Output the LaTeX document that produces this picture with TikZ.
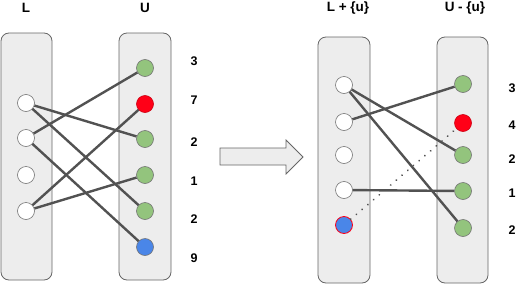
\documentclass[tikz,border=0pt]{standalone}
\usepackage{fontspec}
\setmainfont{Liberation Sans}
\begin{document}
\begin{tikzpicture}[x=1pt,y=-1pt,
  panel/.style={draw=black!60, fill=black!7, rounded corners=8pt, line width=0.8pt},
  vtx/.style={circle, minimum size=17pt, inner sep=0pt, draw=black!55, line width=0.6pt, fill=white},
  gvtx/.style={vtx, fill=grn},
  rvtx/.style={vtx, fill=rd, draw=rd!80!black},
  bvtx/.style={vtx, fill=blu},
  lbl/.style={font=\bfseries\fontsize{12.5}{14}\selectfont, inner sep=0pt},
  ttl/.style={font=\bfseries\fontsize{13.5}{15}\selectfont, inner sep=0pt},
  edge/.style={draw=black!68, line width=2.4pt},
  dotedge/.style={draw=black!68, line width=2pt, line cap=round, dash pattern=on 0.01pt off 7.5pt}
]
\definecolor{grn}{HTML}{93C47D}
\definecolor{rd}{HTML}{FF0017}
\definecolor{blu}{HTML}{4A86E8}
\useasboundingbox (0,0) rectangle (516,284);

% ---------- left part ----------
\node[ttl] (tL) at (26,8) {L};
\node[ttl] (tU) at (145,8) {U};
\draw[panel] (1,33) rectangle (52,280);
\draw[panel] (119,33) rectangle (171,280);

\node[vtx] (a1) at (26,103) {};
\node[vtx] (a2) at (26,138) {};
\node[vtx] (a3) at (26,175) {};
\node[vtx] (a4) at (26,211) {};

\node[gvtx] (b1) at (145,68) {};
\node[rvtx] (b2) at (145,104) {};
\node[gvtx] (b3) at (145,139) {};
\node[gvtx] (b4) at (145,175) {};
\node[gvtx] (b5) at (145,211) {};
\node[bvtx] (b6) at (145,247) {};

\node[lbl] (n1) at (194,61) {3};
\node[lbl] (n2) at (194,100) {7};
\node[lbl] (n3) at (194,142) {2};
\node[lbl] (n4) at (194,181) {1};
\node[lbl] (n5) at (194,219) {2};
\node[lbl] (n6) at (194,258) {9};

\draw[edge] (a1) -- (b3);
\draw[edge] (a1) -- (b5);
\draw[edge] (a2) -- (b1);
\draw[edge] (a2) -- (b6);
\draw[edge] (a4) -- (b2);
\draw[edge] (a4) -- (b4);

% ---------- arrow ----------
\draw[draw=black!60, fill=black!7, line width=0.8pt]
  (220,148) -- (286,148) -- (286,140) -- (303,157) -- (286,174) -- (286,165) -- (220,165) -- cycle;

% ---------- right part ----------
\node[ttl] (tL2) at (348,8) {L + \{u\}};
\node[ttl] (tU2) at (465,8) {U - \{u\}};
\draw[panel] (318,37) rectangle (370,283);
\draw[panel] (437,37) rectangle (488,283);

\node[vtx] (c1) at (344,85) {};
\node[vtx] (c2) at (344,122) {};
\node[vtx] (c3) at (344,155) {};
\node[vtx] (c4) at (344,190) {};
\node[bvtx, draw=rd, line width=0.8pt] (c5) at (344,225) {};

\node[gvtx] (d1) at (463,84) {};
\node[rvtx] (d2) at (463,123) {};
\node[gvtx] (d3) at (463,155) {};
\node[gvtx] (d4) at (463,191) {};
\node[gvtx] (d5) at (463,228) {};

\node[lbl] (m1) at (512,88) {3};
\node[lbl] (m2) at (512,125) {4};
\node[lbl] (m3) at (512,159) {2};
\node[lbl] (m4) at (512,193) {1};
\node[lbl] (m5) at (512,230) {2};

\draw[edge] (c1) -- (d3);
\draw[edge] (c1) -- (d5);
\draw[edge] (c2) -- (d1);
\draw[edge] (c4) -- (d4);
\draw[dotedge] (c5) -- (d2);
\end{tikzpicture}
\end{document}
